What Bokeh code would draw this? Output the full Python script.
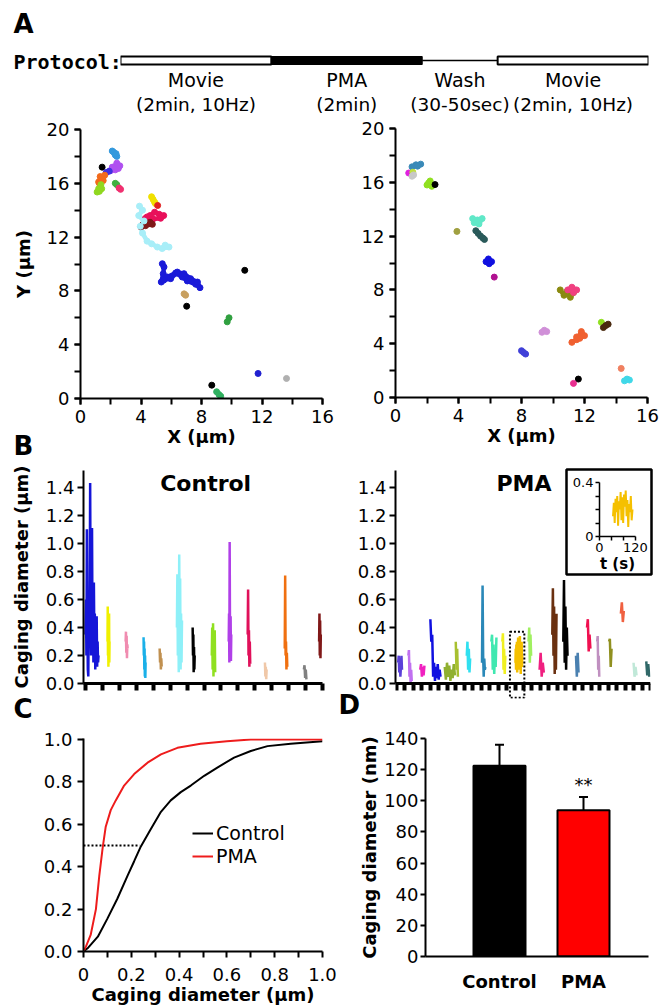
import numpy as np
from bokeh.plotting import figure
from bokeh.models import (Range1d, Column, SingleIntervalTicker, FixedTicker,
                          PrintfTickFormatter, Legend, LegendItem, ColumnDataSource,
                          Whisker, TeeHead)
from bokeh.core.properties import value
from bokeh.embed import file_html
from bokeh.resources import INLINE

FONT = "DejaVu Sans"

# ---------------- data ----------------
protocol_steps = ["Movie", "PMA", "Wash", "Movie"]
protocol_notes = ["(2min, 10Hz)", "(2min)", "(30-50sec)", "(2min, 10Hz)"]
protocol_len = [2, 2, 1, 2]
protocol_kind = ["open", "filled", "line", "open"]

# A: single-particle trajectories (um)
ctrl_trk_x = [[2.1, 2.2, 2.3, 2.4, 2.35], [1.43], [2.0, 2.2, 2.4, 2.6, 2.5, 2.3, 2.1], [1.7, 1.9],
              [1.2, 1.4, 1.6, 1.5, 1.3, 1.25], [1.1, 1.2, 1.35, 1.4, 1.25], [2.3, 2.4], [2.55, 2.65],
              [4.7, 4.8, 4.9, 4.95], [5.1], [4.3, 4.6, 4.9, 5.2, 5.5, 5.3, 4.8, 4.4],
              [4.0, 4.2, 4.4, 4.6, 4.75, 4.3, 4.1],
              [3.9, 4.1, 3.85, 4.2, 3.95, 4.1, 4.4, 4.7, 5.08, 5.4, 5.85, 5.6],
              [5.41, 5.52, 5.47, 5.34, 5.74, 6.29, 6.73, 7.06, 7.62, 7.9, 7.73, 7.28, 6.84, 6.4, 5.96, 5.5],
              [6.85, 6.95], [7.02], [10.86], [9.7, 9.82], [11.74], [13.62], [8.68], [9.0, 9.15, 9.27]]
ctrl_trk_y = [[18.4, 18.3, 18.1, 18.0, 18.2], [17.2], [16.95, 17.2, 17.5, 17.3, 17.1, 17.0, 17.2], [16.8, 16.9],
              [16.1, 16.3, 16.6, 16.2, 16.5, 16.0], [15.35, 15.6, 15.9, 15.6, 15.4], [16.0, 15.9], [15.65, 15.55],
              [15.0, 14.8, 14.6, 14.5], [14.35], [13.4, 13.6, 13.85, 13.7, 13.6, 13.4, 13.35, 13.5],
              [12.75, 12.95, 13.0, 13.1, 12.95, 12.85, 12.9],
              [14.3, 14.0, 13.6, 13.2, 12.8, 12.3, 11.7, 11.5, 11.26, 11.15, 11.26, 11.4],
              [10.02, 9.78, 9.28, 8.66, 9.03, 9.33, 9.03, 8.74, 8.49, 8.24, 8.66, 8.91, 9.28, 9.4, 8.91, 8.8],
              [7.78, 7.68], [6.86], [9.53], [5.7, 6.0], [1.86], [1.49], [0.99], [0.5, 0.3, 0.17]]
ctrl_trk_c = ["#3399dd", "#000000", "#b050f0", "#4030e0", "#f26a1b", "#90d820", "#40b040", "#f03070",
              "#f0e000", "#e02020", "#e8105a", "#801818", "#a8eef8", "#1a1ad8", "#c8a060", "#000000",
              "#000000", "#30a040", "#2020d0", "#b0b0b0", "#000000", "#30b060"]

pma_trk_x = [[1.05, 1.3, 1.6, 1.4], [0.84], [1.1], [1.05, 1.15], [2.0, 2.2, 2.3, 2.1], [2.51], [3.9],
             [4.9, 5.2, 5.5, 5.3, 5.0], [5.1, 5.25, 5.4, 5.55, 5.65], [5.75, 5.9, 6.1, 5.95], [6.27],
             [10.46, 10.7, 10.9, 11.1, 11.3, 10.8], [10.94, 11.2, 11.5, 11.3], [9.3, 9.45, 9.6], [13.07],
             [13.2, 13.35, 13.5], [11.2, 11.5, 11.8, 12.0, 11.7, 11.5], [8.0, 8.13, 8.26], [14.33],
             [14.54, 14.7, 14.85], [11.61], [11.3]]
pma_trk_y = [[17.15, 17.3, 17.35, 17.2], [16.69], [16.75], [16.45, 16.55], [15.8, 16.1, 15.7, 15.95], [15.83], [12.35],
             [13.3, 13.2, 13.3, 12.9, 13.0], [12.4, 12.2, 12.0, 11.85, 11.75], [10.1, 10.3, 10.1, 9.95], [8.95],
             [8.0, 7.6, 7.9, 7.45, 7.8, 7.7], [8.0, 8.2, 8.0, 7.8], [4.85, 5.0, 4.9], [5.59],
             [5.2, 5.35, 5.45], [4.1, 4.3, 4.9, 4.6, 4.4, 4.5], [3.48, 3.35, 3.23], [2.16],
             [1.24, 1.37, 1.3], [1.37], [1.05]]
pma_trk_c = ["#3a8ab8", "#e020e0", "#c0e040", "#c8c8c8", "#90e020", "#000000", "#a0a040",
             "#60e8c8", "#2a5a5a", "#1010e0", "#b01090", "#8a8a10", "#f04080", "#d090d8", "#90e020",
             "#4a2a10", "#f06030", "#4040d8", "#f08060", "#40d8e8", "#000000", "#e83090"]

# B: caging diameter traces (um), one per cell
panel_titles = ["Control", "PMA"]
ctrl_cell = [0.0, 1.3, 2.37, 3.43, 4.38, 5.4, 6.33, 7.46, 8.46, 9.58, 10.6, 11.77, 12.9, 13.8]
ctrl_diam = [[0.35, 0.6, 0.2, 1.1, 0.45, 0.1, 0.05, 0.55, 0.3, 0.6, 1.43, 0.5, 0.2, 0.6, 1.11, 0.4,
              0.55, 0.15, 0.72, 0.3, 0.5, 0.1, 0.45, 0.2, 0.48, 0.12, 0.3, 0.15, 0.2],
             [0.3, 0.55, 0.2, 0.45, 0.12, 0.35, 0.25, 0.5, 0.15, 0.3],
             [0.3, 0.37, 0.22, 0.34, 0.18, 0.28, 0.25],
             [0.33, 0.2, 0.3, 0.1, 0.25, 0.05, 0.2, 0.04, 0.15],
             [0.25, 0.15, 0.22, 0.1, 0.18, 0.12],
             [0.4, 0.78, 0.2, 0.6, 0.08, 0.92, 0.3, 0.75, 0.1, 0.5, 0.15, 0.45],
             [0.4, 0.2, 0.35, 0.08, 0.26, 0.1, 0.2],
             [0.2, 0.4, 0.1, 0.43, 0.05, 0.3, 0.15, 0.38, 0.08],
             [0.3, 0.5, 0.15, 1.01, 0.4, 0.2, 0.48, 0.16, 0.35],
             [0.35, 0.67, 0.2, 0.38, 0.12, 0.3, 0.14],
             [0.15, 0.05, 0.12, 0.03, 0.1],
             [0.25, 0.77, 0.2, 0.3, 0.1, 0.22, 0.12],
             [0.1, 0.13, 0.04, 0.1, 0.03],
             [0.3, 0.5, 0.2, 0.45, 0.18, 0.35]]
ctrl_col = ["#1515d8", "#f0f000", "#f08cb0", "#1ab0e8", "#c09050", "#8ef0f8", "#000000", "#90e020",
            "#b040e8", "#e0105a", "#f0c8a8", "#f07010", "#808080", "#801818"]

pma_cell = [0.2, 1.4, 2.8, 4.0, 5.7, 7.0, 8.3, 10.1, 11.2, 12.5, 14.05, 15.6, 16.9, 18.4, 19.7,
            21.2, 22.5, 23.7, 25.1, 26.5, 28.0, 29.5]
gold_trace = [0.15, 0.25, 0.1, 0.28, 0.18, 0.3, 0.08, 0.26, 0.2, 0.33, 0.12, 0.29, 0.1, 0.31,
              0.22, 0.34, 0.15, 0.27, 0.07, 0.24, 0.18, 0.3, 0.12, 0.2]
pma_diam = [[0.15, 0.2, 0.08, 0.18, 0.05, 0.12, 0.2, 0.1],
            [0.2, 0.24, 0.05, 0.15, 0.0, 0.1, 0.02],
            [0.1, 0.14, 0.05, 0.12, 0.06, 0.13],
            [0.46, 0.3, 0.35, 0.05, 0.15, 0.02, 0.12, 0.04, 0.14, 0.03, 0.1, 0.05],
            [0.12, 0.03, 0.15, 0.05, 0.13, 0.02, 0.1, 0.04, 0.14, 0.06],
            [0.3, 0.1, 0.25, 0.05],
            [0.2, 0.3, 0.1, 0.25, 0.08, 0.18],
            [0.15, 0.7, 0.2, 0.05, 0.18, 0.1, 0.12],
            [0.3, 0.35, 0.1, 0.28, 0.07, 0.22, 0.12, 0.33],
            [0.3, 0.36, 0.1, 0.25, 0.07, 0.2],
            gold_trace,
            [0.3, 0.4, 0.15, 0.35, 0.2],
            [0.1, 0.22, 0.05, 0.15, 0.08],
            [0.35, 0.68, 0.2, 0.55, 0.07, 0.4, 0.1, 0.5],
            [0.3, 0.74, 0.15, 0.55, 0.1, 0.4, 0.2],
            [0.2, 0.05, 0.22, 0.08],
            [0.4, 0.46, 0.23, 0.35, 0.25],
            [0.3, 0.34, 0.1, 0.2, 0.05],
            [0.3, 0.32, 0.12, 0.25],
            [0.5, 0.58, 0.44, 0.52],
            [0.15, 0.05, 0.12, 0.06],
            [0.16, 0.06, 0.14, 0.05]]
pma_col = ["#5a40d8", "#c070f0", "#f020c0", "#1010e0", "#90b030", "#a8c030", "#30e0f0", "#2a88b8",
           "#40e8b0", "#f0f020", "#f5c000", "#a0f060", "#f02080", "#6a3010", "#000000", "#4a80b0",
           "#f01050", "#c090c0", "#909020", "#f06040", "#c0e8d8", "#306868"]
inset_cell = 10          # the boxed PMA cell, shown in the inset
inset_t = (45, 110)      # s, recording window of that trace

# C: cumulative distributions
cdf_ctrl_x = [0, 0.017, 0.06, 0.1, 0.142, 0.184, 0.212, 0.24, 0.28, 0.324, 0.365, 0.407, 0.449,
              0.505, 0.56, 0.63, 0.7, 0.77, 0.867, 1.0]
cdf_ctrl_y = [0, 0.015, 0.07, 0.155, 0.25, 0.357, 0.426, 0.496, 0.574, 0.659, 0.713, 0.752, 0.783,
              0.829, 0.868, 0.915, 0.946, 0.969, 0.98, 0.992]
cdf_pma_x = [0, 0.01, 0.03, 0.052, 0.066, 0.08, 0.093, 0.114, 0.135, 0.17, 0.212, 0.268, 0.324,
             0.393, 0.49, 0.6, 0.7, 1.0]
cdf_pma_y = [0, 0.023, 0.078, 0.2, 0.357, 0.488, 0.589, 0.667, 0.713, 0.783, 0.837, 0.891, 0.93,
             0.961, 0.98, 0.992, 1.0, 1.0]
median_ctrl = 0.235

# D: mean caging diameter
groups = ["Control", "PMA"]
mean_nm = [122.5, 94.0]
sem_nm = [13.5, 8.5]
signif = ["", "**"]
bar_colors = ["#000000", "#ff0000"]

# ---------------- helpers ----------------
LC, RC = 90, 20   # common left/right borders (Bokeh aligns them across stacked plots)


def panel(fx0, fx1, fy0, fy1, T, B, xr, yr, **kw):
    """Figure whose plotting frame sits at page pixels (fx0..fx1, fy0..fy1)."""
    p = figure(width=(fx1 - fx0) + LC + RC, height=T + (fy1 - fy0) + B,
               x_range=xr, y_range=yr, output_backend="svg", toolbar_location=None,
               min_border_left=LC, min_border_right=RC, min_border_top=T, min_border_bottom=B,
               title=None, sizing_mode="fixed", **kw)
    p.styles = {"position": "absolute", "left": f"{fx0 - LC}px", "top": f"{fy0 - T}px"}
    p.background_fill_alpha = 0
    p.border_fill_alpha = 0
    p.outline_line_color = None
    p.xgrid.visible = False
    p.ygrid.visible = False
    return p


def style_ax(ax, size="18px", tick=6, lw=2, standoff=5):
    ax.axis_line_width = lw
    ax.axis_line_color = "black"
    ax.major_tick_line_width = lw
    ax.minor_tick_line_width = lw
    ax.major_tick_in = 0
    ax.major_tick_out = tick
    ax.minor_tick_in = 0
    ax.minor_tick_out = tick
    ax.major_label_standoff = standoff
    ax.major_label_text_font = FONT
    ax.major_label_text_font_size = size
    ax.major_label_text_color = "black"
    ax.axis_label_text_font = FONT
    ax.axis_label_text_font_style = "bold"
    ax.axis_label_text_font_size = "18px"
    ax.axis_label_text_color = "black"


def flat(lists):
    return [v for l in lists for v in l]


figs = []

# ---------------- protocol ----------------
pr = panel(120, 648, 40, 120, 0, 0, Range1d(0, sum(protocol_len)), Range1d(120, 40),
           x_axis_type=None, y_axis_type=None)
starts = np.cumsum([0] + protocol_len[:-1]).astype(float)
ends = starts + np.array(protocol_len)
mids = (starts + ends) / 2
for s, e, k in zip(starts, ends, protocol_kind):
    if k == "open":
        pr.quad(left=[s], right=[e], top=[56], bottom=[64], fill_color="white",
                line_color="black", line_width=2)
    elif k == "filled":
        pr.quad(left=[s], right=[e], top=[56], bottom=[64], fill_color="black",
                line_color="black", line_width=1)
    else:
        pr.segment(x0=[s], y0=[60], x1=[e], y1=[60], line_color="black", line_width=1.5)
pr.text(x=list(mids), y=[79] * 4, text=protocol_steps, text_font=value(FONT),
        text_font_size="19px", text_align="center", text_baseline="middle", text_color="black")
pr.text(x=list(mids), y=[104] * 4, text=protocol_notes, text_font=value(FONT),
        text_font_size="18.5px", text_align="center", text_baseline="middle", text_color="black")
figs.append(pr)

# ---------------- A: trajectories ----------------
def traj(p, xs, ys, cs):
    p.multi_line(xs=xs, ys=ys, line_color=cs, line_width=4.5, line_join="round")
    fc = flat([[c] * len(x) for c, x in zip(cs, xs)])
    p.scatter(flat(xs), flat(ys), color=fc, size=6)


pA1 = panel(80, 322, 129, 398, 14, 59, Range1d(0, 16), Range1d(0, 20))
pA2 = panel(395, 647, 128, 397, 13, 60, Range1d(0, 16), Range1d(0, 20))
for p in (pA1, pA2):
    p.xaxis.ticker = SingleIntervalTicker(interval=4, num_minor_ticks=2)
    p.yaxis.ticker = SingleIntervalTicker(interval=4, num_minor_ticks=2)
    style_ax(p.xaxis[0])
    style_ax(p.yaxis[0])
    p.xaxis.axis_label = "X (μm)"
    p.xaxis.axis_label_standoff = 0
pA1.yaxis.axis_label = "Y (μm)"
pA1.yaxis.axis_label_standoff = 10
traj(pA1, ctrl_trk_x, ctrl_trk_y, ctrl_trk_c)
traj(pA2, pma_trk_x, pma_trk_y, pma_trk_c)
figs += [pA1, pA2]

# ---------------- B: caging diameter traces ----------------
def trace_xy(cells, diams, spans):
    xs, ys = [], []
    for c, d, s in zip(cells, diams, spans):
        n = len(d)
        xs.append([c + s * j / (n - 1) for j in range(n)])
        ys.append(list(d))
    return xs, ys


ctrl_span = [0.77, 0.12, 0.12, 0.12, 0.12, 0.3, 0.12, 0.2, 0.15, 0.15, 0.1, 0.15, 0.15, 0.1]
pma_span = [0.45, 0.4, 0.5, 1.2, 1.2, 0.25, 0.4, 0.4, 0.6, 0.35, 0.8, 0.3, 0.5, 0.5, 0.5,
            0.3, 0.4, 0.25, 0.3, 0.35, 0.35, 0.35]

n1 = len(ctrl_diam)
ppc1 = (322 - 85) / n1
pB1 = panel(83, 322, 470, 683, 15, 17, Range1d(-(85 - 83) / ppc1, n1), Range1d(0, 1.52))
n2 = 30
ppc2 = (650 - 396) / n2
pB2 = panel(395, 650, 470, 698, 15, 17, Range1d(-(396 - 395) / ppc2, n2), Range1d(-0.105, 1.52))
for p, n in ((pB1, n1), (pB2, n2)):
    p.yaxis.ticker = FixedTicker(ticks=[0, 0.2, 0.4, 0.6, 0.8, 1.0, 1.2, 1.4])
    p.yaxis.formatter = PrintfTickFormatter(format="%.1f")
    style_ax(p.yaxis[0], standoff=3)
    p.xaxis.ticker = FixedTicker(ticks=list(range(n + 1)))
    style_ax(p.xaxis[0], tick=7, lw=3)
    p.xaxis.major_tick_line_width = 4
    p.xaxis.major_label_overrides = {i: "" for i in range(n + 1)}
pB1.yaxis.axis_label = "Caging diameter (μm)"
pB1.yaxis.axis_label_standoff = 11
pB2.xaxis.fixed_location = 0
pB2.yaxis.bounds = (0, 1.52)

xs, ys = trace_xy(ctrl_cell, ctrl_diam, ctrl_span)
pB1.multi_line(xs=xs, ys=ys, line_color=ctrl_col, line_width=2.5)
xs, ys = trace_xy(pma_cell, pma_diam, pma_span)
pB2.multi_line(xs=xs, ys=ys, line_color=pma_col, line_width=2.5)

pB1.text(x=[7.1], y=[1.43], text=[panel_titles[0]], text_font=value(FONT), text_font_style="bold",
         text_font_size="22px", text_align="center", text_baseline="middle", text_color="black")
pB2.text(x=[15.06], y=[1.43], text=[panel_titles[1]], text_font=value(FONT), text_font_style="bold",
         text_font_size="22px", text_align="center", text_baseline="middle", text_color="black")
bx0 = pma_cell[inset_cell] - 0.65
bx1 = pma_cell[inset_cell] + pma_span[inset_cell] + 0.25
pB2.quad(left=[bx0], right=[bx1], bottom=[-0.1], top=[max(pma_diam[inset_cell]) + 0.03],
         fill_alpha=0, line_color="black", line_width=2, line_dash="2 2")
figs += [pB1, pB2]

# inset (frame outline = box, then the small axes)
pbox = panel(566, 651, 469, 574, 10, 10, Range1d(0, 1), Range1d(0, 1),
             x_axis_type=None, y_axis_type=None)
pbox.background_fill_color = "white"
pbox.background_fill_alpha = 1
pbox.outline_line_color = "black"
pbox.outline_line_width = 2.5
pbox.outline_line_alpha = 1
figs.append(pbox)

pin = panel(599, 635, 482, 537, 14, 38, Range1d(0, 120), Range1d(0, 0.4))
pin.xaxis.ticker = FixedTicker(ticks=[0, 120], minor_ticks=[40, 80])
pin.yaxis.ticker = FixedTicker(ticks=[0, 0.4], minor_ticks=[0.1, 0.2, 0.3])
pin.yaxis.major_label_overrides = {0: "0", 0.4: "0.4"}
for ax in (pin.xaxis[0], pin.yaxis[0]):
    style_ax(ax, size="13px", tick=4, lw=1.5, standoff=2)
pin.xaxis.axis_label = "t (s)"
pin.xaxis.axis_label_text_font_size = "15px"
pin.xaxis.axis_label_standoff = 0
g = pma_diam[inset_cell]
gt = [inset_t[0] + (inset_t[1] - inset_t[0]) * j / (len(g) - 1) for j in range(len(g))]
pin.line(gt, g, line_color=pma_col[inset_cell], line_width=2)
figs.append(pin)

# ---------------- C: cumulative distributions ----------------
pC = panel(83, 322, 738, 953, 48, 54, Range1d(0, 1.0), Range1d(0, 1.005))
pC.xaxis.ticker = FixedTicker(ticks=[0, 0.2, 0.4, 0.6, 0.8, 1.0],
                              minor_ticks=[0.1, 0.3, 0.5, 0.7, 0.9])
pC.xaxis.formatter = PrintfTickFormatter(format="%.1f")
pC.xaxis.major_label_overrides = {0: "0"}
pC.yaxis.ticker = FixedTicker(ticks=[0, 0.2, 0.4, 0.6, 0.8, 1.0])
pC.yaxis.formatter = PrintfTickFormatter(format="%.1f")
style_ax(pC.xaxis[0], standoff=10)
style_ax(pC.yaxis[0])
pC.xaxis.axis_label = "Caging diameter (μm)"
pC.xaxis.axis_label_standoff = 0
pC.segment(x0=[0], y0=[0.5], x1=[median_ctrl], y1=[0.5], line_color="black",
           line_width=2, line_dash="2 2")
r1 = pC.line(cdf_ctrl_x, cdf_ctrl_y, line_color="black", line_width=2)
r2 = pC.line(cdf_pma_x, cdf_pma_y, line_color="#ee1c1c", line_width=2)
leg = Legend(items=[LegendItem(label=groups[0], renderers=[r1]),
                    LegendItem(label=groups[1], renderers=[r2])],
             location=(109, 84))
leg.border_line_color = None
leg.background_fill_alpha = 0
leg.label_text_font = FONT
leg.label_text_font_size = "19px"
leg.label_text_color = "black"
leg.glyph_width = 21
leg.glyph_height = 22
leg.label_height = 22
leg.label_standoff = 3
leg.padding = 0
leg.margin = 0
leg.spacing = 1
pC.add_layout(leg)
figs.append(pC)

# ---------------- D: bar chart ----------------
pos = [1, 2]
ppb = (583 - 499)
pD = panel(425, 648, 738, 956, 48, 51,
           Range1d(1 - (499 - 425) / ppb, 2 + (648 - 583) / ppb), Range1d(0, 140))
src = ColumnDataSource(dict(x=pos, top=mean_nm, color=bar_colors,
                            up=[m + s for m, s in zip(mean_nm, sem_nm)]))
pD.vbar(x="x", top="top", width=52 / ppb, bottom=0, fill_color="color",
        line_color="black", line_width=2, source=src)
pD.add_layout(Whisker(source=src, base="x", upper="up", lower="top",
                      line_width=2, line_color="black",
                      upper_head=TeeHead(size=9, line_width=2, line_color="black"),
                      lower_head=None))
pD.text(x=pos, y=[m + s + 8 for m, s in zip(mean_nm, sem_nm)], text=signif,
        text_font=value(FONT), text_font_size="18px", text_align="center",
        text_baseline="middle", text_color="black")
pD.yaxis.ticker = SingleIntervalTicker(interval=20, num_minor_ticks=0)
style_ax(pD.yaxis[0], tick=5, standoff=2)
style_ax(pD.xaxis[0], standoff=8)
pD.xaxis.ticker = FixedTicker(ticks=pos)
pD.xaxis.major_label_overrides = {p: g for p, g in zip(pos, groups)}
pD.xaxis.major_tick_line_color = None
pD.xaxis.major_label_text_font_style = "bold"
pD.yaxis.axis_label = "Caging diameter (nm)"
pD.yaxis.axis_label_standoff = 1
figs.append(pD)

# ---------------- panel letters ----------------
ov = panel(0, 660, 0, 1007, 0, 0, Range1d(0, 660), Range1d(1007, 0),
           x_axis_type=None, y_axis_type=None)
ov.text(x=[13, 13, 13, 338], y=[23, 445, 708, 704], text=["A", "B", "C", "D"],
        text_font=value(FONT), text_font_style="bold", text_font_size="26px",
        text_align="left", text_baseline="middle", text_color="black")
ov.text(x=[13], y=[61], text=["Protocol:"], text_font=value("DejaVu Sans Mono"),
        text_font_style="bold", text_font_size="20px", text_align="left",
        text_baseline="middle", text_color="black")
figs.append(ov)

root = Column(children=figs, width=660, height=1007, sizing_mode="fixed",
              styles={"position": "relative", "overflow": "hidden"})
open("out.html", "w").write(file_html(root, INLINE))
